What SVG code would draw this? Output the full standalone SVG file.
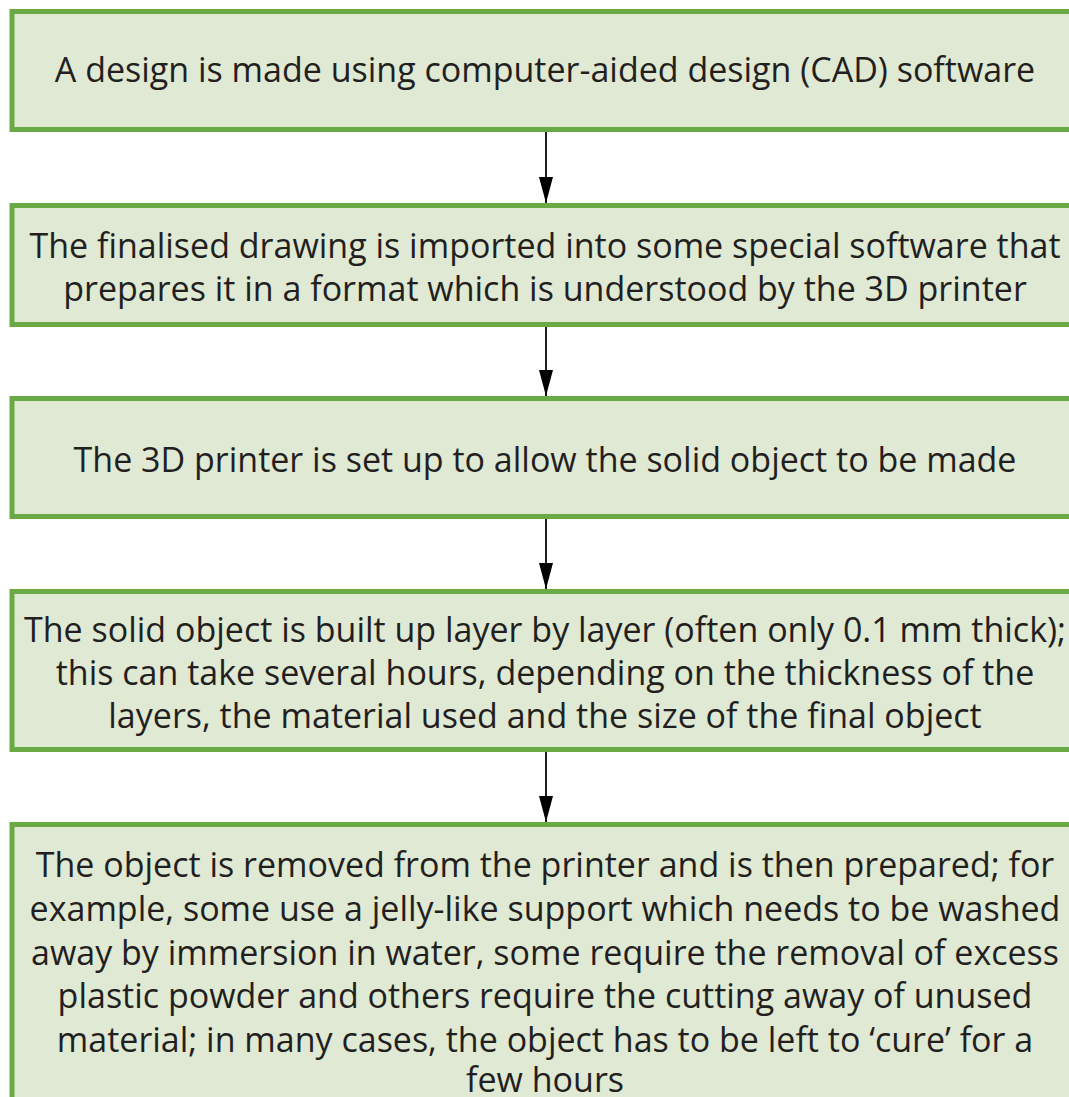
<svg xmlns="http://www.w3.org/2000/svg" width="1069" height="1097" viewBox="0 0 1069 1097">
<defs>
<style>
.box{fill:#dfe9d3;stroke:#6aaa45;stroke-width:5}
.t{font-family:"Open Sans","Noto Sans","Liberation Sans",sans-serif;font-size:34px;fill:#231f20;text-anchor:middle}
.c{stroke:#231f20;stroke-width:2;fill:none}
</style>
<marker id="ah" markerWidth="26" markerHeight="14" refX="26" refY="7" orient="auto" markerUnits="userSpaceOnUse" viewBox="0 0 26 14">
<path d="M0,0 L26,7 L0,14 Z" fill="#000"/>
</marker>
</defs>
<rect width="1069" height="1097" fill="#ffffff"/>
<g id="connectors">
<path class="c" d="M546,132 V203" marker-end="url(#ah)"/>
<path class="c" d="M546,327 V396" marker-end="url(#ah)"/>
<path class="c" d="M546,519 V589" marker-end="url(#ah)"/>
<path class="c" d="M546,752 V822" marker-end="url(#ah)"/>
</g>
<g id="node1">
<rect class="box" x="12" y="11.5" width="1070" height="118"/>
<text class="t" x="545" y="82">A design is made using computer-aided design (CAD) software</text>
</g>
<g id="node2">
<rect class="box" x="12" y="205.5" width="1070" height="119"/>
<text class="t" x="545" y="258">The finalised drawing is imported into some special software that</text>
<text class="t" x="545" y="301">prepares it in a format which is understood by the 3D printer</text>
</g>
<g id="node3">
<rect class="box" x="12" y="398.5" width="1070" height="118"/>
<text class="t" x="545" y="472">The 3D printer is set up to allow the solid object to be made</text>
</g>
<g id="node4">
<rect class="box" x="12" y="591.5" width="1070" height="158"/>
<text class="t" x="545" y="642">The solid object is built up layer by layer (often only 0.1 mm thick);</text>
<text class="t" x="545" y="685">this can take several hours, depending on the thickness of the</text>
<text class="t" x="545" y="728">layers, the material used and the size of the final object</text>
</g>
<g id="node5">
<rect class="box" x="12" y="824.5" width="1070" height="300"/>
<text class="t" x="545" y="877">The object is removed from the printer and is then prepared; for</text>
<text class="t" x="545" y="921">example, some use a jelly-like support which needs to be washed</text>
<text class="t" x="545" y="965">away by immersion in water, some require the removal of excess</text>
<text class="t" x="545" y="1008">plastic powder and others require the cutting away of unused</text>
<text class="t" x="545" y="1052">material; in many cases, the object has to be left to ‘cure’ for a</text>
<text class="t" x="545" y="1092">few hours</text>
</g>
</svg>
